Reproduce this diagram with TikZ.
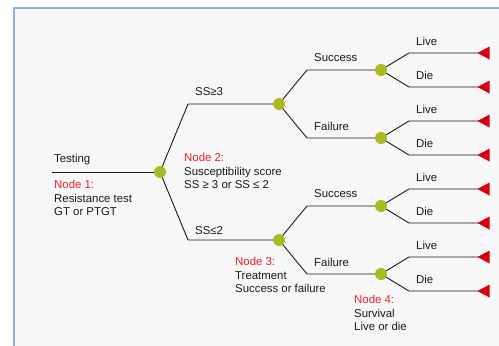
\documentclass[tikz,border=0pt]{standalone}
\usepackage{fontspec}
\setmainfont{Liberation Sans}
\definecolor{panel}{HTML}{F7F7F7}
\definecolor{frame}{HTML}{8FB0D8}
\definecolor{chance}{HTML}{AABB22}
\definecolor{terminal}{HTML}{D60010}
\definecolor{nodered}{HTML}{E8202A}
\definecolor{ink}{HTML}{1A1A1A}
\tikzset{
  branch/.style={draw=ink, line width=0.9pt},
  dot/.style={circle, fill=chance, inner sep=0pt, minimum size=12pt},
  lbl/.style={anchor=west, inner sep=0pt, font=\fontsize{11.4}{13}\selectfont, text=ink},
  note/.style={anchor=north west, inner sep=0pt, align=left, font=\fontsize{11.4}{13.6}\selectfont, text=ink},
}
\begin{document}
\begin{tikzpicture}[x=1pt,y=-1pt]
\useasboundingbox (0,0) rectangle (499,346);
% panel with its blue frame on the top and left sides
\fill[panel] (14,7.5) rectangle (499,346);
\draw[frame, line width=2pt] (14,346) -- (14,7.5) -- (499,7.5);

% root
\coordinate (start) at (52,172);
\coordinate (n1) at (160,172);
% first split
\coordinate (a1) at (188,104);
\coordinate (a2) at (188,240);
\coordinate (n2) at (279,104);
\coordinate (n3) at (279,240);
% second split
\coordinate (b1) at (307,70);
\coordinate (b2) at (307,138);
\coordinate (b3) at (307,206);
\coordinate (b4) at (307,274);
\coordinate (m1) at (381,70);
\coordinate (m2) at (381,138);
\coordinate (m3) at (381,206);
\coordinate (m4) at (381,274);

% branches
\draw[branch] (start) -- (n1);
\draw[branch] (n1) -- (a1) -- (n2);
\draw[branch] (n1) -- (a2) -- (n3);
\draw[branch] (n2) -- (b1) -- (m1);
\draw[branch] (n2) -- (b2) -- (m2);
\draw[branch] (n3) -- (b3) -- (m3);
\draw[branch] (n3) -- (b4) -- (m4);

% survival branches and terminal triangles
\foreach \m/\y in {m1/70, m2/138, m3/206, m4/274}{
  \coordinate (\m-up) at (409,\y-17);
  \coordinate (\m-dn) at (409,\y+17);
  \coordinate (\m-upend) at (489,\y-17);
  \coordinate (\m-dnend) at (489,\y+17);
  \draw[branch] (\m) -- (\m-up) -- (\m-upend);
  \draw[branch] (\m) -- (\m-dn) -- (\m-dnend);
  \fill[terminal] (\m-upend) ++(0.5,-6.5) -- ++(-12,6.5) -- ++(12,6.5) -- cycle;
  \fill[terminal] (\m-dnend) ++(0.5,-6.5) -- ++(-12,6.5) -- ++(12,6.5) -- cycle;
  \node[lbl] at (416,\y-29) {Live};
  \node[lbl] at (416,\y+5) {Die};
}

% chance nodes on top of the lines
\foreach \d in {n1, n2, n3, m1, m2, m3, m4}{
  \node[dot] (\d-dot) at (\d) {};
}

% branch labels
\node[lbl] (tTesting) at (54,160) {Testing};
\node[lbl] (tHigh) at (195,92) {SS≥3};
\node[lbl] (tLow) at (195,231) {SS≤2};
\node[lbl] (tS1) at (314,58) {Success};
\node[lbl] (tF1) at (314,126) {Failure};
\node[lbl] (tS2) at (314,194) {Success};
\node[lbl] (tF2) at (314,262) {Failure};

% decision node notes
\node[note] (k1) at (54,180) {\textcolor{nodered}{Node 1:}\\Resistance test\\GT or PTGT};
\node[note] (k2) at (184,153) {\textcolor{nodered}{Node 2:}\\Susceptibility score\\SS ≥ 3 or SS ≤ 2};
\node[note] (k3) at (235,257) {\textcolor{nodered}{Node 3:}\\Treatment\\Success or failure};
\node[note] (k4) at (354,295) {\textcolor{nodered}{Node 4:}\\Survival\\Live or die};
\end{tikzpicture}
\end{document}
